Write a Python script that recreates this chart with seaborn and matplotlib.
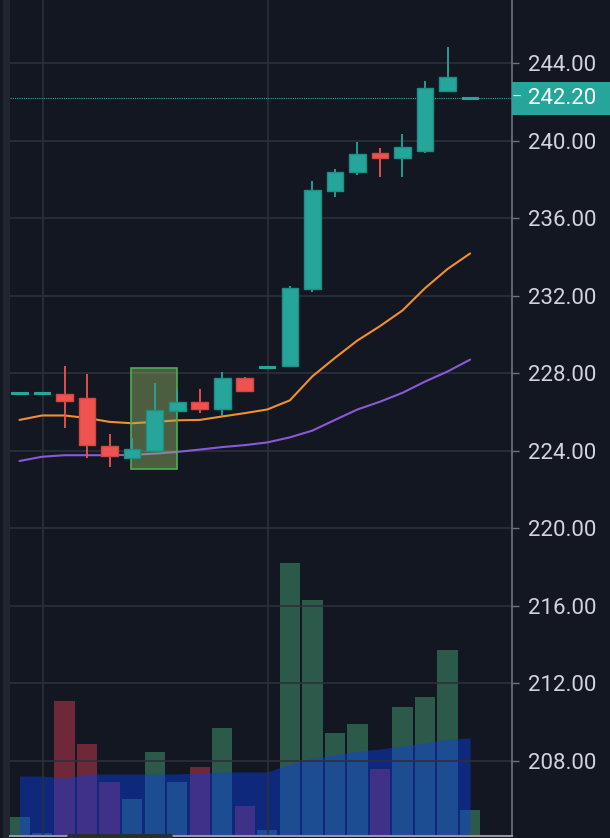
import numpy as np
import pandas as pd
import matplotlib
matplotlib.use("Agg")
import matplotlib.pyplot as plt
import matplotlib.transforms as mtransforms
from matplotlib.patches import Rectangle, FancyBboxPatch
import seaborn as sns

# ---------------- data ----------------
opens  = [227.00, 227.00, 226.95, 226.74, 224.26, 223.64, 224.00, 226.07, 226.53, 226.17, 227.77,
          228.34, 228.39, 232.37, 237.39, 238.37, 239.40, 239.14, 239.50, 242.55, 242.20]
closes = [227.00, 227.00, 226.60, 224.31, 223.74, 224.10, 226.10, 226.53, 226.17, 227.77, 227.10,
          228.34, 232.42, 237.44, 238.42, 239.30, 239.14, 239.71, 242.71, 243.28, 242.20]
highs  = [227.00, 227.00, 228.40, 227.98, 224.88, 224.67, 227.50, 227.20, 227.20, 228.08, 227.80,
          228.34, 232.53, 237.95, 238.57, 239.92, 239.61, 240.38, 243.07, 244.83, 242.20]
lows   = [227.00, 227.00, 225.20, 223.64, 223.17, 223.60, 224.00, 226.00, 225.96, 225.80, 227.10,
          228.34, 228.35, 232.22, 237.08, 238.26, 238.16, 238.16, 239.35, 242.55, 242.20]
volumes = [190, 30, 1350, 920, 540, 370, 840, 540, 690, 1080, 300,
           60, 2730, 2360, 1030, 1120, 670, 1290, 1390, 1860, 260]
volume_ma = [600, 600, 580, 620, 620, 620, 620, 620, 630, 640, 640,
             640, 720, 780, 810, 850, 870, 900, 930, 970, 980]
ma_fast = [225.60, 225.83, 225.83, 225.70, 225.50, 225.43, 225.50, 225.58, 225.60, 225.78, 225.95,
           226.14, 226.61, 227.85, 228.80, 229.70, 230.44, 231.25, 232.40, 233.39, 234.19]
ma_slow = [223.48, 223.70, 223.78, 223.78, 223.78, 223.80, 223.86, 223.95, 224.07, 224.20, 224.30,
           224.44, 224.70, 225.05, 225.60, 226.14, 226.54, 227.00, 227.58, 228.10, 228.71]
price_ticks = [208, 212, 216, 220, 224, 228, 232, 236, 240, 244]
last_price = 242.20
highlight_x = [4.95, 7.0]
highlight_y = [223.07, 228.30]
time_grid = [1.05, 11.05]

df = pd.DataFrame({"i": np.arange(len(opens)), "open": opens, "close": closes,
                   "high": highs, "low": lows, "vol": volumes, "vol_ma": volume_ma,
                   "ma_fast": ma_fast, "ma_slow": ma_slow})

BG = "#131722"
UP = "#26a69a"
DOWN = "#ef5350"
GRID = "#2c303b"
TEXT = "#d1d4dc"

sns.set_theme(style="dark")
plt.rcParams["font.family"] = ["Roboto", "DejaVu Sans"]

W, H = 610, 838
fig = plt.figure(figsize=(W / 100, H / 100), dpi=100, facecolor=BG)
ax_left, ax_w = 10 / W, 502 / W
ax_bot, ax_h = 2 / H, 836 / H
ax = fig.add_axes([ax_left, ax_bot, ax_w, ax_h])
ax.set_facecolor(BG)
vax = ax.twinx()
vax.set_zorder(0)
ax.set_zorder(1)
ax.patch.set_visible(False)
vax.set_facecolor(BG)

xlim = (-0.42, 21.86)
ax.set_xlim(*xlim)
vax.set_xlim(*xlim)
ax.set_ylim(204.13, 247.27)
vax.set_ylim(0, 8360)

# ---------------- volume panel ----------------
vol_colors = ["#2c5a4a" if c >= o else "#6e2837" for o, c in zip(opens, closes)]
vax.bar(df["i"], df["vol"], width=0.9, color=vol_colors, linewidth=0, zorder=1)
vax.fill_between(df["i"], 0, df["vol_ma"], color="#0a3dec", alpha=0.45, linewidth=0, zorder=2)
vax.set_yticks([])
for s in vax.spines.values():
    s.set_visible(False)

# ---------------- grid ----------------
for t in price_ticks:
    ax.axhline(t, color=GRID, lw=1.2, zorder=0)
for t in time_grid:
    ax.axvline(t, color=GRID, lw=1.2, zorder=0)

# ---------------- moving averages ----------------
sns.lineplot(data=df, x="i", y="ma_fast", ax=ax, color="#f0902f", lw=1.5, zorder=3)
sns.lineplot(data=df, x="i", y="ma_slow", ax=ax, color="#8a5ad6", lw=1.5, zorder=3)

# ---------------- highlight rectangle (above lines, below candles) ----------------
ax.add_patch(Rectangle((highlight_x[0], highlight_y[0]), highlight_x[1] - highlight_x[0],
                       highlight_y[1] - highlight_y[0], facecolor="#96b464", alpha=0.45,
                       edgecolor="none", zorder=3.5))
ax.add_patch(Rectangle((highlight_x[0], highlight_y[0]), highlight_x[1] - highlight_x[0],
                       highlight_y[1] - highlight_y[0], facecolor="none",
                       edgecolor="#4caf50", lw=1.2, zorder=3.6))

# ---------------- candles ----------------
for _, r in df.iterrows():
    up = r["close"] >= r["open"]
    col = UP if up else DOWN
    edge = "#1f8e84" if up else "#d2473f"
    if r["high"] > r["low"]:
        ax.vlines(r["i"], r["low"], r["high"], color=col, lw=1.3, zorder=4)
    bottom = min(r["open"], r["close"])
    height = abs(r["close"] - r["open"])
    if height < 0.05:
        ax.bar(r["i"], 0.08, bottom=r["close"] - 0.04, width=0.72, color=col,
               edgecolor=col, lw=0.8, zorder=5)
    else:
        ax.bar(r["i"], height, bottom=bottom, width=0.74, color=col,
               edgecolor=edge, lw=1.0, zorder=5)

# ---------------- last price line ----------------
ax.axhline(last_price, color=UP, lw=0.8, ls=(0, (1, 1)), zorder=3)

# ---------------- right price axis ----------------
ax.yaxis.tick_right()
ax.set_yticks(price_ticks)
ax.set_yticklabels([f"{t:.2f}" for t in price_ticks])
ax.tick_params(axis="y", colors="#6f727c", labelcolor=TEXT, length=5, width=1,
               pad=6.5, labelsize=16, right=True, left=False)
ax.set_xticks([])
ax.set_xlabel("")
ax.set_ylabel("")
for name, s in ax.spines.items():
    s.set_visible(False)
ax.spines["right"].set_visible(True)
ax.spines["right"].set_color("#6f727c")
ax.spines["right"].set_linewidth(1.2)
ax.spines["bottom"].set_visible(True)
ax.spines["bottom"].set_color("#9598a1")
ax.spines["bottom"].set_linewidth(1.5)

# last price label box
blend = mtransforms.blended_transform_factory(ax.transAxes, ax.transData)
box_w = 98 / 502
ax.add_patch(Rectangle((1.0, last_price - 0.85), box_w, 1.70, transform=blend,
                       facecolor=UP, edgecolor="none", clip_on=False, zorder=10))
ax.text(1.0, last_price, "–", transform=blend, color="#e6f4f2", fontsize=11,
        va="center", ha="left", zorder=11, clip_on=False)
ax.text(1.0 + 16 / 502, last_price, f"{last_price:.2f}", transform=blend, color="white",
        fontsize=16, va="center", ha="left", zorder=11, clip_on=False)

# left strip and bottom scroll thumb
fig.patches.append(Rectangle((3 / W, 0), 7 / W, 1, transform=fig.transFigure,
                             facecolor="#21252f", edgecolor="none", zorder=0))
fig.patches.append(FancyBboxPatch((67 / W, 0), 106 / W, 4 / H, transform=fig.transFigure,
                                  boxstyle="round,pad=0,rounding_size=0.004",
                                  facecolor="#2a2d36", edgecolor="none", zorder=5))

fig.savefig("out.png", dpi=100, facecolor=BG)
